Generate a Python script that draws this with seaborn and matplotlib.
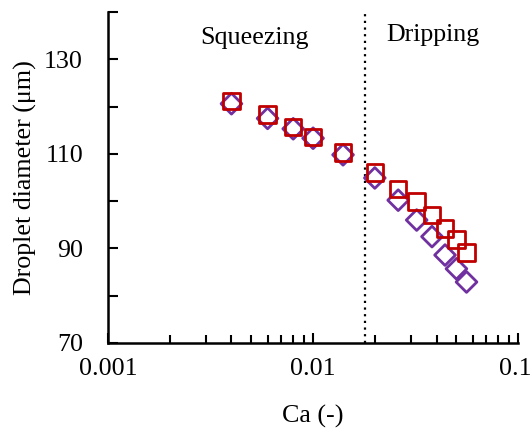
import matplotlib
matplotlib.use("Agg")
import matplotlib.pyplot as plt
import matplotlib.transforms as mtransforms
import seaborn as sns
import numpy as np
import pandas as pd
from matplotlib.ticker import FixedLocator, LogLocator, NullFormatter, FixedFormatter

# Capillary number and measured droplet diameters
ca = [0.004, 0.006, 0.008, 0.010, 0.014, 0.020, 0.026, 0.032, 0.038, 0.044, 0.050, 0.056]
diam_diamond = [120.6, 117.5, 115.3, 113.3, 109.8, 104.9, 100.2, 96.0, 92.5, 88.6, 85.7, 82.9]
diam_square = [121.2, 118.3, 115.7, 113.6, 110.3, 106.1, 102.6, 99.9, 97.1, 94.2, 91.9, 89.1]
transition_ca = 0.018
y_ticks = [70, 80, 90, 100, 110, 120, 130, 140]
y_labels = ["70", "", "90", "", "110", "", "130", ""]
x_ticks = [0.001, 0.01, 0.1]
x_labels = ["0.001", "0.01", "0.1"]

purple = "#7030A0"
red = "#C00000"
FS = 18.7

sns.set_theme(style="white")
plt.rcParams["font.family"] = ["Liberation Serif", "DejaVu Serif"]

fig = plt.figure(figsize=(5.32, 4.28), dpi=100)
ax = fig.add_axes([0.203, 0.1986, 0.771, 0.7734])

df = pd.DataFrame({"ca": ca, "d1": diam_diamond, "d2": diam_square})

sns.scatterplot(data=df, x="ca", y="d1", marker="D", s=112, fc="none",
                ec=purple, linewidth=2.0, ax=ax, zorder=3)
sns.scatterplot(data=df, x="ca", y="d2", marker="s", s=140, fc="none",
                ec=red, linewidth=2.0, ax=ax, zorder=4)

ax.axvline(transition_ca, color="black", linestyle=(0, (1, 2)), linewidth=1.6, zorder=2)

ax.set_xscale("log")
ax.set_xlim(0.001, 0.1)
ax.set_ylim(70, 140)

ax.xaxis.set_major_locator(FixedLocator(x_ticks))
ax.xaxis.set_major_formatter(FixedFormatter(x_labels))
ax.xaxis.set_minor_locator(LogLocator(base=10, subs=np.arange(2, 10)))
ax.xaxis.set_minor_formatter(NullFormatter())
ax.yaxis.set_major_locator(FixedLocator(y_ticks))
ax.yaxis.set_major_formatter(FixedFormatter(y_labels))

ax.tick_params(axis="both", which="both", direction="in", width=1.5, colors="black",
               labelsize=FS, bottom=True, left=True, top=False, right=False)
ax.tick_params(axis="both", which="major", length=7)
ax.tick_params(axis="x", which="minor", length=6)
ax.tick_params(axis="x", which="major", pad=11)
ax.tick_params(axis="y", which="major", pad=18)

for side in ["top", "right"]:
    ax.spines[side].set_visible(False)
for side in ["left", "bottom"]:
    ax.spines[side].set_linewidth(1.8)
    ax.spines[side].set_color("black")

ax.set_xlabel("Ca (-)", fontsize=FS, color="black", labelpad=18)
ax.set_ylabel("Droplet diameter (μm)", fontsize=FS, color="black", labelpad=5)

ax.text(0.0052, 134.6, "Squeezing", fontsize=FS, ha="center", va="center", color="black")
ax.text(0.0385, 135.2, "Dripping", fontsize=FS, ha="center", va="center", color="black")

fig.canvas.draw()
last = ax.get_xticklabels()[-1]
last.set_transform(last.get_transform() + mtransforms.ScaledTranslation(-3 / 100, 0, fig.dpi_scale_trans))

fig.savefig("out.png", dpi=100)
